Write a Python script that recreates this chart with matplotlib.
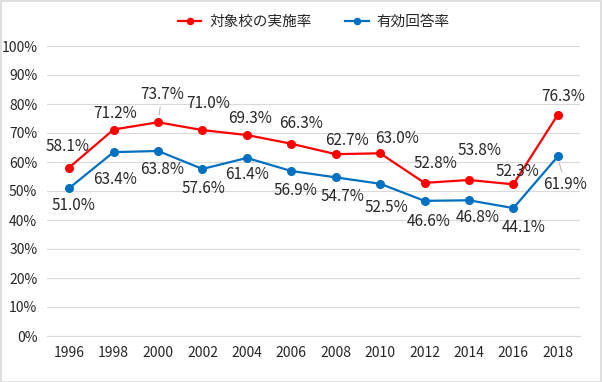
import matplotlib
matplotlib.use("Agg")
import matplotlib.pyplot as plt
from matplotlib.patches import Rectangle

plt.rcParams["font.family"] = ["Noto Sans CJK JP", "DejaVu Sans"]

# data
years = ["1996", "1998", "2000", "2002", "2004", "2006",
         "2008", "2010", "2012", "2014", "2016", "2018"]
implementation_rate = [58.1, 71.2, 73.7, 71.0, 69.3, 66.3, 62.7, 63.0, 52.8, 53.8, 52.3, 76.3]
response_rate = [51.0, 63.4, 63.8, 57.6, 61.4, 56.9, 54.7, 52.5, 46.6, 46.8, 44.1, 61.9]
series_names = ["対象校の実施率", "有効回答率"]
y_ticks = [0, 10, 20, 30, 40, 50, 60, 70, 80, 90, 100]

# label offsets from each point, in pixels (dx, dy; dy up)
red_offsets = [(-2, 21), (2, 16), (4, 28), (6, 27), (3, 17), (10, 20),
               (11, 14), (17, 15), (11, 19), (11, 29), (4, 13), (5, 18)]
blue_offsets = [(4, -17), (1, -27), (4, -19), (1, -20), (0, -17), (4, -20),
                (7, -19), (6, -24), (4, -21), (9, -17), (10, -19), (7, -28)]
red_leaders = {2}
blue_leaders = {11}

RED = "#FF0000"
BLUE = "#0070C0"
GRID = "#D9D9D9"

fig = plt.figure(figsize=(6.02, 3.82), dpi=100)
ax = fig.add_axes([47 / 602, 1 - 336 / 382, 533 / 602, 290 / 382])

x = list(range(len(years)))
ax.plot(x, implementation_rate, color=RED, lw=1.6, marker="o", ms=5.5,
        label=series_names[0], zorder=3)
ax.plot(x, response_rate, color=BLUE, lw=1.6, marker="o", ms=5.5,
        label=series_names[1], zorder=3)


def add_labels(values, offsets, leaders):
    for i, v in enumerate(values):
        dx, dy = offsets[i]
        props = None
        if i in leaders:
            props = dict(arrowstyle="-", color="#A6A6A6", lw=0.6, shrinkA=1, shrinkB=5)
        ax.annotate(f"{v:.1f}%", xy=(i, v), xytext=(dx, dy), textcoords="offset pixels",
                    ha="center", va="center", fontsize=11, color="#262626",
                    arrowprops=props, zorder=4)


add_labels(implementation_rate, red_offsets, red_leaders)
add_labels(response_rate, blue_offsets, blue_leaders)

ax.set_xlim(-0.5, len(years) - 0.5)
ax.set_ylim(0, 100)
ax.set_yticks(y_ticks)
ax.set_yticklabels([f"{t}%" for t in y_ticks])
ax.set_xticks(x)
ax.set_xticklabels(years)
ax.tick_params(axis="both", length=0, labelsize=10, colors="#262626")
ax.tick_params(axis="y", pad=7)
ax.tick_params(axis="x", pad=7)
ax.grid(axis="y", color=GRID, lw=0.8)
ax.set_axisbelow(True)
for side in ["top", "right", "left"]:
    ax.spines[side].set_visible(False)
ax.spines["bottom"].set_color(GRID)
ax.spines["bottom"].set_linewidth(0.8)

fig.legend(loc="center", bbox_to_anchor=(314 / 602, 1 - 22 / 382), ncol=2, frameon=False,
           fontsize=10.5, handlelength=1.6, handletextpad=0.55, columnspacing=2.3,
           labelcolor="#262626", markerscale=0.8)

fig.patches.append(Rectangle((0.5 / 602, 0.5 / 382), 1 - 1.5 / 602, 1 - 1.5 / 382,
                             transform=fig.transFigure, fill=False,
                             edgecolor=GRID, lw=1.2))

fig.savefig("out.png", dpi=100)
